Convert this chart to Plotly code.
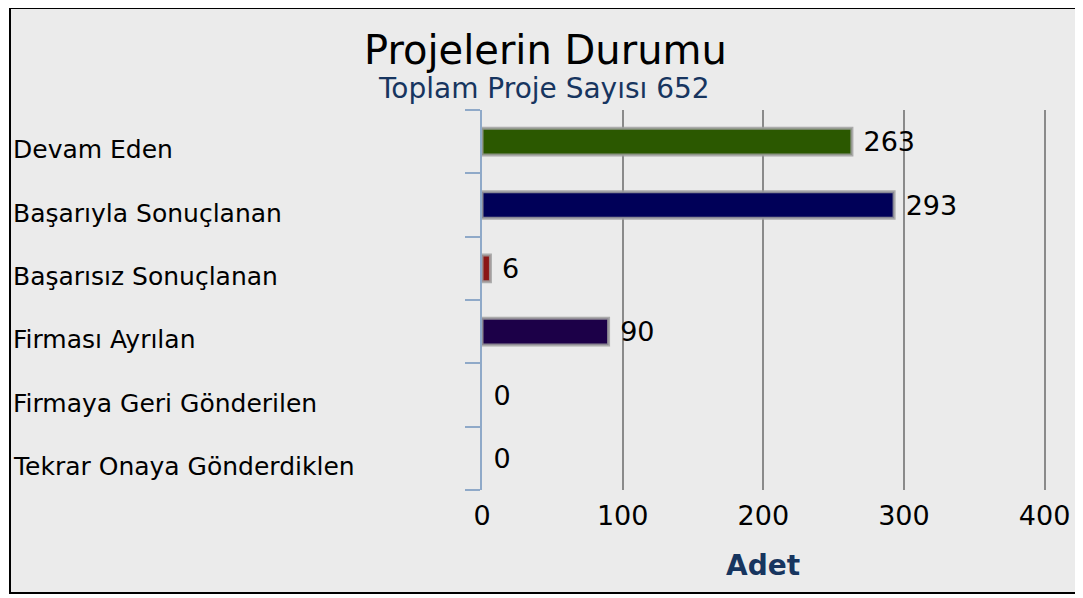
import plotly.graph_objects as go

categories = ["Devam Eden", "Başarıyla Sonuçlanan", "Başarısız Sonuçlanan",
              "Firması Ayrılan", "Firmaya Geri Gönderilen", "Tekrar Onaya Gönderdiklen"]
values = [263, 293, 6, 90, 0, 0]
bar_colors = ["#2b5800", "#000058", "#8b1616", "#1c0048", "#444444", "#444444"]
x_ticks = [0, 100, 200, 300, 400]
title_text = "Projelerin Durumu"
subtitle_text = "Toplam Proje Sayısı 652"
x_title = "Adet"

FONT = "DejaVu Sans"
OFF = 8  # default page body margin
W, H = 1083 - OFF, 598 - OFF
L = 482 - OFF
T = 110 - OFF
R = W - (1046 - OFF)
B = H - (490 - OFF)
pw, ph = W - L - R, H - T - B

def px_x(p):
    return (p - OFF - L) / pw

def px_y(p):
    return (H - B - (p - OFF)) / ph

fig = go.Figure()
fig.add_trace(go.Bar(
    y=categories, x=values, orientation="h",
    marker=dict(color=bar_colors,
                line=dict(color="rgba(160,160,160,0.85)",
                          width=[3 if v > 0 else 0 for v in values])),
    width=0.42,
    text=[" " + str(v) for v in values], textposition="outside", constraintext="none",
    textfont=dict(family=FONT, size=27, color="black"),
    cliponaxis=False, hoverinfo="skip",
))

annotations = [
    dict(text=title_text, x=px_x(545), y=px_y(50), xref="paper", yref="paper",
         showarrow=False, font=dict(family=FONT, size=40, color="black"),
         xanchor="center", yanchor="middle"),
    dict(text=subtitle_text, x=px_x(544), y=px_y(88), xref="paper", yref="paper",
         showarrow=False, font=dict(family=FONT, size=28, color="#17355f"),
         xanchor="center", yanchor="middle"),
    dict(text="<b>" + x_title + "</b>", x=px_x(763), y=px_y(565), xref="paper", yref="paper",
         showarrow=False, font=dict(family=FONT, size=28, color="#17355f"),
         xanchor="center", yanchor="middle"),
]
for c in categories:
    annotations.append(dict(text=c, x=px_x(11), y=c, xref="paper", yref="y",
                            showarrow=False, xanchor="left", yanchor="middle", yshift=-8,
                            font=dict(family=FONT, size=25, color="black")))

fig.update_layout(
    width=W, height=H,
    margin=dict(l=L, r=R, t=T, b=B),
    paper_bgcolor="white", plot_bgcolor="rgba(0,0,0,0)",
    showlegend=False,
    annotations=annotations,
    shapes=[dict(type="rect", xref="paper", yref="paper",
                 x0=px_x(10), x1=px_x(1077), y0=px_y(593), y1=px_y(8),
                 fillcolor="#ebebeb", line=dict(color="black", width=2), layer="below")],
    xaxis=dict(range=[0, 401], tickvals=x_ticks, showgrid=True, gridcolor="#8a8a8a",
               gridwidth=2, zeroline=False, showline=False,
               ticks="outside", ticklen=2, tickcolor="rgba(0,0,0,0)",
               tickfont=dict(family=FONT, size=27, color="black"), fixedrange=True),
    yaxis=dict(categoryorder="array", categoryarray=categories[::-1],
               showticklabels=False, showline=True, linecolor="#8fa9c8", linewidth=2,
               ticks="outside", tickson="boundaries", ticklen=15, tickcolor="#8fa9c8",
               tickwidth=2, showgrid=False, zeroline=False, fixedrange=True),
)

fig.write_html("out.html")
